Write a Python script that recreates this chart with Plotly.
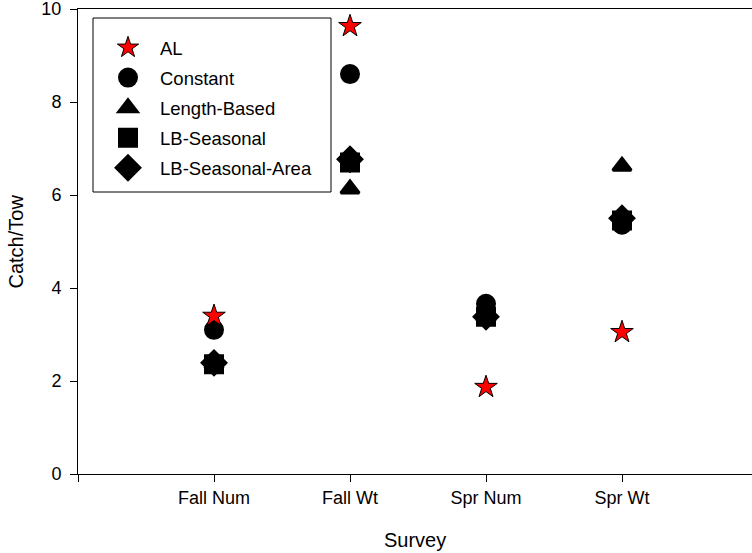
import plotly.graph_objects as go

# Catch per tow by survey, for each catchability model
surveys = ["Fall Num", "Fall Wt", "Spr Num", "Spr Wt"]
al = [3.40, 9.63, 1.87, 3.05]
constant = [3.10, 8.60, 3.66, 5.36]
length_based = [2.36, 6.13, 3.37, 6.62]
lb_seasonal = [2.36, 6.70, 3.38, 5.45]
lb_seasonal_area = [2.39, 6.77, 3.38, 5.50]

x_pos = list(range(1, len(surveys) + 1))

W, H = 752, 553
ML, MR, MT, MB = 78, 0, 9, 79
FONT = "Arial, Liberation Sans, sans-serif"

series = [
    # name, values, symbol, size, fill, outline colour, outline width, legend rank
    ("Constant", constant, "circle", 16, "black", "black", 4, 2),
    ("Length-Based", length_based, "triangle-up", 16, "black", "black", 3, 3),
    ("LB-Seasonal", lb_seasonal, "square", 16, "black", "black", 4, 4),
    ("LB-Seasonal-Area", lb_seasonal_area, "diamond", 16, "black", "black", 5, 5),
    ("AL", al, "star", 17, "#ff0000", "black", 1, 1),
]

fig = go.Figure()
for name, vals, sym, size, fill, lc, lw, rank in series:
    fig.add_trace(go.Scatter(
        x=x_pos, y=vals, mode="markers", name=name,
        legendgroup=name, legendrank=rank,
        marker=dict(symbol=sym, size=size, color=fill,
                    line=dict(color=lc, width=lw)),
    ))

pw = W - ML - MR
ph = H - MT - MB

def px_x(p):
    return (p - ML) / pw

def px_y(p):
    return (H - MB - p) / ph

fig.update_layout(
    width=W, height=H,
    margin=dict(l=ML, r=MR, t=MT, b=MB, autoexpand=False),
    paper_bgcolor="white", plot_bgcolor="white",
    font=dict(family=FONT, color="black", size=18),
    showlegend=True,
    legend=dict(
        xref="container", yref="container",
        x=96 / W, y=1 - 29 / H, xanchor="left", yanchor="top",
        bgcolor="rgba(0,0,0,0)", borderwidth=0,
        font=dict(family=FONT, size=18.5, color="black"),
        itemwidth=54, tracegroupgap=3, traceorder="grouped",
    ),
    shapes=[dict(
        type="rect", xref="paper", yref="paper",
        x0=px_x(93), x1=px_x(331), y0=px_y(192), y1=px_y(18),
        line=dict(color="black", width=1), fillcolor="rgba(0,0,0,0)",
        layer="above",
    )],
    annotations=[
        dict(text="Catch/Tow", textangle=-90, showarrow=False,
             xref="paper", yref="paper", x=px_x(15), y=0.5,
             xanchor="center", yanchor="middle",
             font=dict(family=FONT, size=20, color="black")),
        dict(text="Survey", showarrow=False,
             xref="paper", yref="paper", x=0.5, y=px_y(540),
             xanchor="center", yanchor="middle",
             font=dict(family=FONT, size=20, color="black")),
    ],
)

fig.update_xaxes(
    range=[0, pw / 136.0],
    tickmode="array",
    tickvals=[0] + x_pos + [len(surveys) + 1],
    ticktext=[""] + surveys + [""],
    ticks="outside", ticklen=7, tickwidth=1, tickcolor="black",
    showline=True, linecolor="black", linewidth=1, mirror=True,
    showgrid=False, zeroline=False,
    ticklabelstandoff=0,
    tickfont=dict(family=FONT, size=18),
)
fig.update_yaxes(
    range=[0, 10],
    tickmode="array", tickvals=[0, 2, 4, 6, 8, 10],
    ticks="outside", ticklen=7, tickwidth=1, tickcolor="black",
    showline=True, linecolor="black", linewidth=1,
    showgrid=False, zeroline=False,
    ticklabelstandoff=5, ticklabeloverflow="allow",
    tickfont=dict(family=FONT, size=18),
)

fig.write_html("out.html")
